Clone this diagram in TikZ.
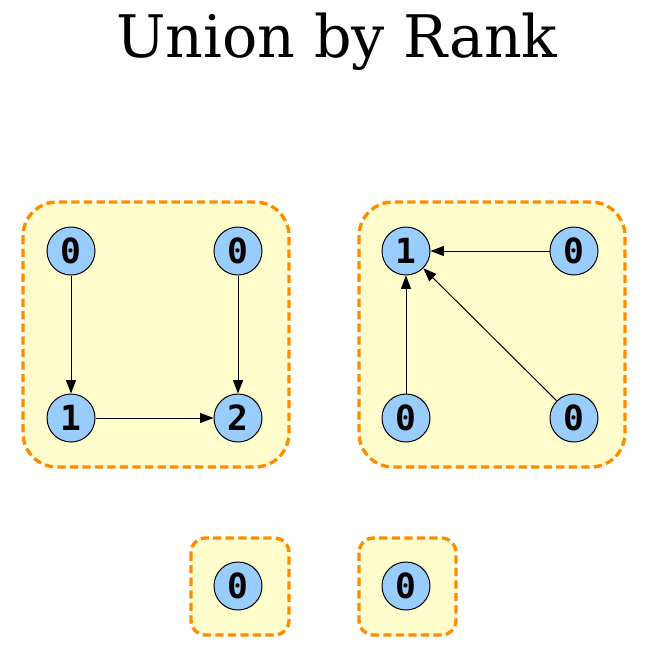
\documentclass[tikz,border=0pt]{standalone}
\usepackage{fontspec}
\setmainfont{DejaVu Serif}
\setmonofont{DejaVu Sans Mono}
\usetikzlibrary{arrows.meta}

\definecolor{boxfill}{RGB}{255,253,204}
\definecolor{boxline}{RGB}{255,140,0}
\definecolor{rankfill}{RGB}{153,204,255}

\tikzset{
  setbox/.style={draw=boxline, fill=boxfill, line width=2.5pt, dash pattern=on 6.2pt off 3.2pt},
  rank/.style={circle, draw, line width=0.75pt, fill=rankfill, inner sep=0pt, minimum size=36pt, font=\fontsize{26}{28}\selectfont\ttfamily\bfseries},
  parent/.style={-{Triangle[length=10pt,width=7.5pt]}, line width=0.75pt}
}

\begin{document}
\begin{tikzpicture}[x=0.75pt,y=0.75pt,yscale=-1,xscale=1]
\useasboundingbox (0,0) rectangle (647,647);

% Text Node
\draw (337,57) node [anchor=base, inner sep=0pt] [font=\fontsize{44}{50}\selectfont] (title) {Union by Rank};

%Shape: Rounded Rect
\draw [setbox, rounded corners=25.5pt] (23,202) rectangle (289,467) ;
%Shape: Rounded Rect
\draw [setbox, rounded corners=25.5pt] (359,202) rectangle (625,467) ;
%Shape: Rounded Rect
\draw [setbox, rounded corners=11pt] (191,538) rectangle (289,635) ;
%Shape: Rounded Rect
\draw [setbox, rounded corners=11pt] (359,538) rectangle (456,635) ;

% Rank Nodes
\node [rank] (a1) at (71,251) {0};
\node [rank] (a2) at (238,251) {0};
\node [rank] (a3) at (71,418) {1};
\node [rank] (a4) at (238,418) {2};
\node [rank] (b1) at (406,251) {1};
\node [rank] (b2) at (574,251) {0};
\node [rank] (b3) at (406,418) {0};
\node [rank] (b4) at (574,418) {0};
\node [rank] (c1) at (238,586) {0};
\node [rank] (d1) at (406,586) {0};

%Straight Lines
\draw [parent] (a1) -- (a3) ;
\draw [parent] (a2) -- (a4) ;
\draw [parent] (a3) -- (a4) ;
\draw [parent] (b2) -- (b1) ;
\draw [parent] (b3) -- (b1) ;
\draw [parent] (b4) -- (b1) ;

\end{tikzpicture}
\end{document}
